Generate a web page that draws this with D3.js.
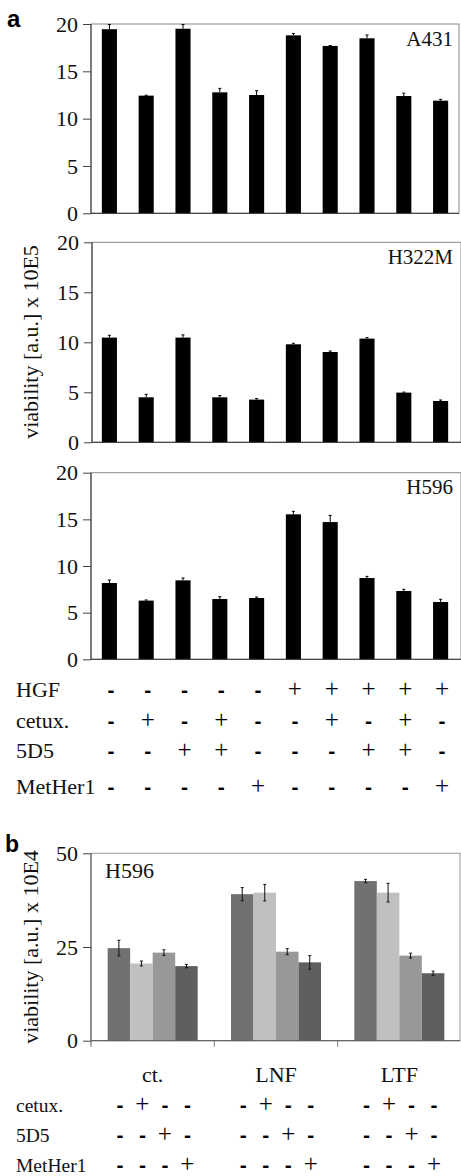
<!DOCTYPE html>
<html>
<head>
<meta charset="utf-8">
<script src="https://cdn.jsdelivr.net/npm/d3@7"></script>
<style>
  body { margin: 0; background: #fff; }
  svg { display: block; }
</style>
</head>
<body>
<div class="chartHolder"></div>
<script>
// ---- panel a data ----
const cellLines = ["A431", "H322M", "H596"];
const viabA431 = [19.45, 12.43, 19.5, 12.78, 12.5, 18.8, 17.68, 18.49, 12.39, 11.9];
const errA431 = [0.5, 0.05, 0.45, 0.42, 0.45, 0.2, 0.05, 0.35, 0.3, 0.14];
const viabH322M = [10.47, 4.5, 10.47, 4.5, 4.27, 9.8, 9.03, 10.37, 4.97, 4.13];
const errH322M = [0.23, 0.3, 0.27, 0.17, 0.1, 0.1, 0.1, 0.1, 0.05, 0.1];
const viabH596 = [8.18, 6.29, 8.46, 6.46, 6.57, 15.54, 14.71, 8.71, 7.32, 6.14];
const errH596 = [0.32, 0.07, 0.25, 0.25, 0.1, 0.32, 0.71, 0.18, 0.18, 0.29];
const ticksA = [0, 5, 10, 15, 20];

// treatment table under panel a
const rowLabelsA = ["HGF", "cetux.", "5D5", "MetHer1"];
const hgfRow = ["-", "-", "-", "-", "-", "+", "+", "+", "+", "+"];
const cetuxRow = ["-", "+", "-", "+", "-", "-", "+", "-", "+", "-"];
const d5Row = ["-", "-", "+", "+", "-", "-", "-", "+", "+", "-"];
const metHer1Row = ["-", "-", "-", "-", "+", "-", "-", "-", "-", "+"];

// ---- panel b data ----
const groupsB = ["ct.", "LNF", "LTF"];
const seriesB = ["none", "cetux.", "5D5", "MetHer1"];
const viabB_none = [24.7, 39.1, 42.6];
const viabB_cetux = [20.6, 39.5, 39.5];
const viabB_5d5 = [23.5, 23.75, 22.7];
const viabB_metHer1 = [19.9, 20.9, 18.0];
const errB_none = [2.1, 1.75, 0.45];
const errB_cetux = [0.65, 2.2, 2.5];
const errB_5d5 = [0.75, 0.8, 0.65];
const errB_metHer1 = [0.45, 1.8, 0.55];
const ticksB = [0, 25, 50];
const rowLabelsB = ["cetux.", "5D5", "MetHer1"];
const cetuxRowB = ["-", "+", "-", "-"];
const d5RowB = ["-", "-", "+", "-"];
const metHer1RowB = ["-", "-", "-", "+"];

const SERIF = "Liberation Serif";
const SANS = "Liberation Sans";
const frameColor = "#8a8a8a";

const svg = d3.select(".chartHolder").append("svg")
  .attr("width", 461)
  .attr("height", 1176);

const serifText = (sel, size = 21) => sel.style("font-family", SERIF).style("font-size", size + "px").attr("fill", "#111");

// panel letters
svg.append("text").attr("x", 7).attr("y", 27)
  .style("font-family", SANS).style("font-weight", "bold").style("font-size", "24px")
  .text("a");
svg.append("text").attr("x", 5).attr("y", 852)
  .style("font-family", SANS).style("font-weight", "bold").style("font-size", "23px")
  .text("b");

const xA = d3.scaleBand()
  .domain(d3.range(10))
  .range([91, 459])
  .paddingInner(0.59)
  .paddingOuter(0.295);

const drawTicks = (g, yScale, left, ticks) => {
  const axis = d3.axisLeft(yScale).tickValues(ticks).tickSize(8).tickPadding(5);
  const ax = g.append("g").attr("transform", `translate(${left},0)`).call(axis);
  ax.select(".domain").remove();
  ax.selectAll("line").attr("stroke", "#444");
  ax.selectAll("text").call(serifText, 22);
};

const panelsA = [
  { name: cellLines[0], vals: viabA431, errs: errA431, top: 24, bottom: 213.3, left: 91, right: 459 },
  { name: cellLines[1], vals: viabH322M, errs: errH322M, top: 242.3, bottom: 442.3, left: 92, right: 461 },
  { name: cellLines[2], vals: viabH596, errs: errH596, top: 472.7, bottom: 659.3, left: 91, right: 461 }
];

panelsA.forEach(p => {
  const g = svg.append("g");
  const y = d3.scaleLinear().domain([0, 20]).range([p.bottom, p.top]);

  // frame
  g.append("rect")
    .attr("x", p.left).attr("y", p.top)
    .attr("width", p.right - p.left).attr("height", p.bottom - p.top)
    .attr("fill", "none").attr("stroke", frameColor).attr("stroke-width", 1);

  // error bars
  g.selectAll(".err")
    .data(p.vals)
    .enter()
    .append("path")
    .attr("stroke", "#000")
    .attr("stroke-width", 1)
    .attr("fill", "none")
    .attr("d", (d, i) => {
      const cx = xA(i) + xA.bandwidth() / 2;
      const yt = y(d + p.errs[i]);
      return `M${cx},${y(d)}V${yt}M${cx - 1.5},${yt}H${cx + 1.5}`;
    });

  // bars
  g.selectAll(".bar")
    .data(p.vals)
    .enter()
    .append("rect")
    .attr("x", (d, i) => xA(i))
    .attr("y", d => y(d))
    .attr("width", xA.bandwidth())
    .attr("height", d => y(0) - y(d))
    .attr("fill", "#000");

  // axis lines
  g.append("line").attr("x1", p.left).attr("x2", p.left)
    .attr("y1", p.top).attr("y2", p.bottom).attr("stroke", "#333");
  g.append("line").attr("x1", p.left).attr("x2", p.right)
    .attr("y1", p.bottom).attr("y2", p.bottom).attr("stroke", "#333");

  drawTicks(g, y, p.left, ticksA);

  g.append("text")
    .attr("x", 453).attr("y", p.top + 21.5)
    .attr("text-anchor", "end")
    .call(serifText, 21)
    .text(p.name);
});

// y label panel a
svg.append("text")
  .attr("transform", "translate(38,342) rotate(-90)")
  .attr("text-anchor", "middle")
  .call(serifText, 22)
  .text("viability [a.u.] x 10E5");

// +/- symbol helper
const drawSymbol = (x, yBase, s, size) => {
  if (s === "+") {
    svg.append("text").attr("x", x).attr("y", yBase)
      .attr("text-anchor", "middle")
      .style("font-family", SERIF).style("font-size", (size + 3) + "px")
      .text("+");
  } else {
    svg.append("text").attr("x", x).attr("y", yBase)
      .attr("text-anchor", "middle")
      .style("font-family", SANS).style("font-weight", "bold").style("font-size", "21px")
      .text("-");
  }
};

// table a
const tableA = [hgfRow, cetuxRow, d5Row, metHer1Row];
const rowYA = [697, 728, 758, 794];
tableA.forEach((row, r) => {
  svg.append("text").attr("x", 16).attr("y", rowYA[r])
    .call(serifText, 22)
    .text(rowLabelsA[r]);
  row.forEach((s, i) => drawSymbol(xA(i) + xA.bandwidth() / 2 + 1.5, rowYA[r], s, 22));
});

// ---- panel b ----
const pb = { top: 853.3, bottom: 1040.7, left: 91, right: 460 };
const yB = d3.scaleLinear().domain([0, 50]).range([pb.bottom, pb.top]);
const xB0 = d3.scaleBand().domain(groupsB).range([91, 461]).paddingInner(0.27).paddingOuter(0.135);
const xB1 = d3.scaleBand().domain(seriesB).range([0, xB0.bandwidth()]);
const colorB = d3.scaleOrdinal().domain(seriesB).range(["#717171", "#c0c0c0", "#989898", "#5f5f5f"]);

const valsB = [viabB_none, viabB_cetux, viabB_5d5, viabB_metHer1];
const errsB = [errB_none, errB_cetux, errB_5d5, errB_metHer1];
const tableB = groupsB.map((grp, gi) => seriesB.map((s, si) => ({
  group: grp, series: s, value: valsB[si][gi], err: errsB[si][gi]
})));

const gb = svg.append("g");
gb.append("rect")
  .attr("x", pb.left).attr("y", pb.top)
  .attr("width", pb.right - pb.left).attr("height", pb.bottom - pb.top)
  .attr("fill", "none").attr("stroke", "#9a9a9a");

gb.selectAll(".grp")
  .data(tableB)
  .enter()
  .append("g")
  .attr("transform", d => `translate(${xB0(d[0].group)},0)`)
  .each(function(d) {
    const gg = d3.select(this);
    gg.selectAll("rect")
      .data(d)
      .enter()
      .append("rect")
      .attr("x", e => xB1(e.series))
      .attr("y", e => yB(e.value))
      .attr("width", xB1.bandwidth())
      .attr("height", e => yB(0) - yB(e.value))
      .attr("fill", e => colorB(e.series));
    gg.selectAll("path")
      .data(d)
      .enter()
      .append("path")
      .attr("stroke", "#111")
      .attr("stroke-width", 1)
      .attr("fill", "none")
      .attr("d", e => {
        const cx = xB1(e.series) + xB1.bandwidth() / 2;
        const y1 = yB(e.value + e.err), y2 = yB(e.value - e.err);
        return `M${cx},${y1}V${y2}M${cx - 1.5},${y1}H${cx + 1.5}M${cx - 1.5},${y2}H${cx + 1.5}`;
      });
  });

// axes b
gb.append("line").attr("x1", pb.left).attr("x2", pb.left)
  .attr("y1", pb.top).attr("y2", pb.bottom + 6).attr("stroke", "#555");
gb.append("line").attr("x1", pb.left).attr("x2", pb.right)
  .attr("y1", pb.bottom).attr("y2", pb.bottom).attr("stroke", "#555");
groupsB.slice(1).forEach(grp => {
  const bx = xB0(grp) - xB0.step() * xB0.paddingInner() / 2;
  gb.append("line").attr("x1", bx).attr("x2", bx)
    .attr("y1", pb.bottom).attr("y2", pb.bottom + 6).attr("stroke", "#777");
});
drawTicks(gb, yB, pb.left, ticksB);

gb.append("text").attr("x", 105).attr("y", 878)
  .call(serifText, 22)
  .text("H596");

svg.append("text")
  .attr("transform", "translate(38,947) rotate(-90)")
  .attr("text-anchor", "middle")
  .call(serifText, 22)
  .text("viability [a.u.] x 10E4");

// group labels
groupsB.forEach(grp => {
  svg.append("text")
    .attr("x", xB0(grp) + xB0.bandwidth() / 2).attr("y", 1082)
    .attr("text-anchor", "middle")
    .call(serifText, 22)
    .text(grp);
});

// table b
const rowsB = [cetuxRowB, d5RowB, metHer1RowB];
const rowYB = [1112, 1142, 1172];
rowsB.forEach((row, r) => {
  svg.append("text").attr("x", 16).attr("y", rowYB[r])
    .call(serifText, 19.5)
    .text(rowLabelsB[r]);
  groupsB.forEach(grp => {
    row.forEach((s, i) => drawSymbol(xB0(grp) + xB1(seriesB[i]) + xB1.bandwidth() / 2 + 1, rowYB[r], s, 22));
  });
});
</script>
</body>
</html>
